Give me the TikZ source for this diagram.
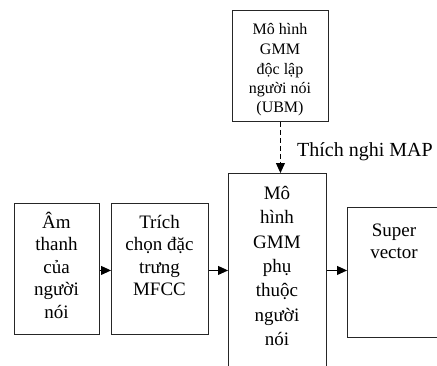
\documentclass[tikz,border=0pt]{standalone}
\usepackage{fontspec}
\setmainfont{Liberation Serif}
\usetikzlibrary{arrows.meta}
\newcommand\fA{\fontsize{19}{22.5}\selectfont}
\newcommand\fM{\fontsize{19}{24.5}\selectfont}
\newcommand\fU{\fontsize{16}{19.5}\selectfont}
\begin{document}
\begin{tikzpicture}[x=1pt,y=1pt,
  box/.style={draw=black!85, line width=0.9pt, inner sep=0, anchor=north west},
  arr/.style={line width=0.9pt, -{Triangle[length=10pt,width=9pt]}},
  txt/.style={inner sep=0, anchor=base}]
\clip (0,0) rectangle (437,365);
\node[box, minimum width=85, minimum height=131] (b1) at (14,162) {};
\node[box, minimum width=97, minimum height=131] (b2) at (111,162) {};
\node[box, minimum width=98, minimum height=200] (main) at (228,192) {};
\node[box, minimum width=96, minimum height=111] (ubm) at (232,355) {};
\node[box, minimum width=93, minimum height=130] (sv) at (347,158) {};
\node[txt] (t1) at (56.5,137) {\parbox[t]{90pt}{\centering\fA Âm\\thanh\\của\\người\\nói}};
\node[txt] (t2) at (159.5,137) {\parbox[t]{100pt}{\centering\fA Trích\\chọn đặc\\trưng\\MFCC}};
\node[txt] (tm) at (277,166) {\parbox[t]{100pt}{\centering\fM Mô\\hình\\GMM\\phụ\\thuộc\\người\\nói}};
\node[txt] (tu) at (280,330) {\parbox[t]{100pt}{\centering\fU Mô hình\\GMM\\độc lập\\người nói\\(UBM)}};
\node[txt] (ts) at (394,129) {\parbox[t]{100pt}{\centering\fontsize{19}{22}\selectfont Super\\vector}};
\node[inner sep=0, anchor=base west] (lab) at (297,208) {\fontsize{20}{24}\selectfont Thích nghi MAP};
\draw[arr] ([yshift=-1.5]b1.east) -- ([yshift=-1.5]b2.west);
\draw[arr] ([yshift=-1.5]b2.east) -- ([yshift=-1.5]b2.east -| main.west);
\draw[arr] ([yshift=3]main.east) -- ([yshift=3]main.east -| sv.west);
\draw[arr, dash pattern=on 5pt off 3pt] (ubm.south) -- (ubm.south |- main.north);
\end{tikzpicture}
\end{document}
